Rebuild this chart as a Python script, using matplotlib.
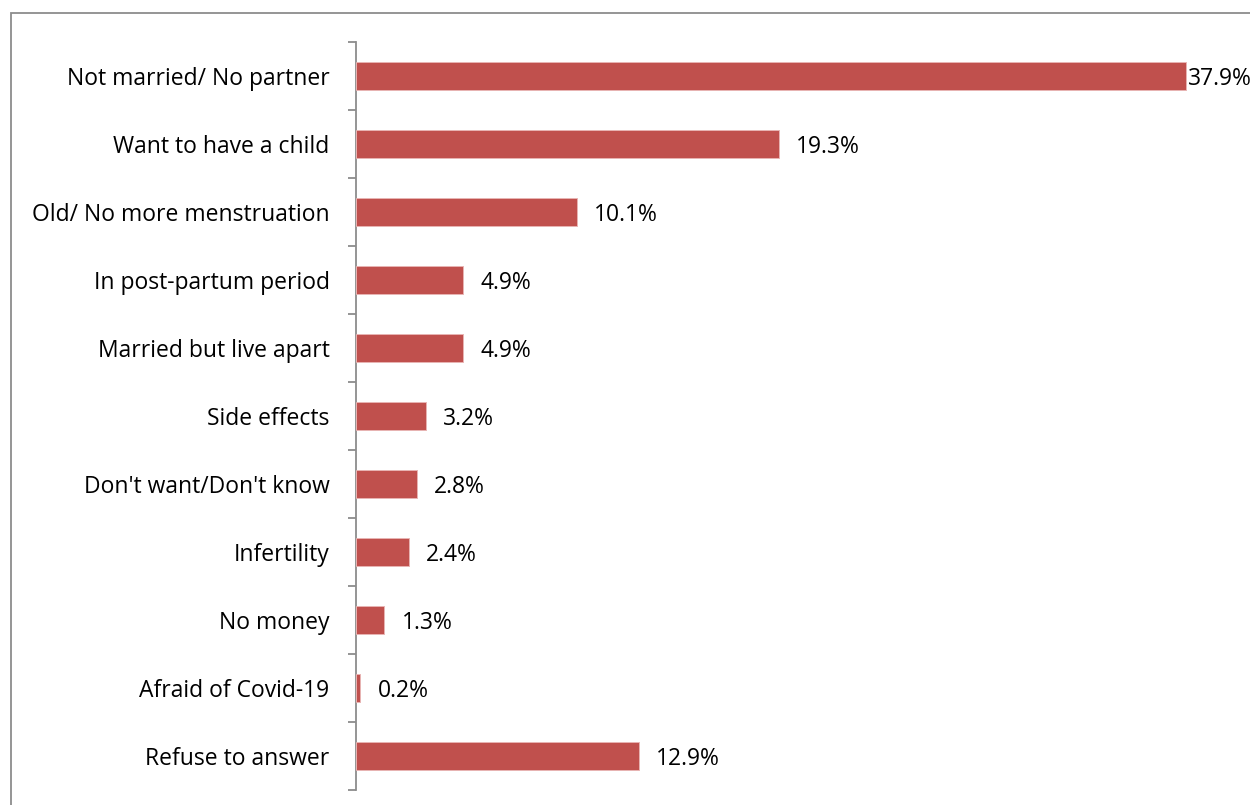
import matplotlib
matplotlib.use("Agg")
import matplotlib.pyplot as plt
from matplotlib.patches import Rectangle
import numpy as np

categories = [
    "Not married/ No partner",
    "Want to have a child",
    "Old/ No more menstruation",
    "In post-partum period",
    "Married but live apart",
    "Side effects",
    "Don't want/Don't know",
    "Infertility",
    "No money",
    "Afraid of Covid-19",
    "Refuse to answer",
]
values = [37.9, 19.3, 10.1, 4.9, 4.9, 3.2, 2.8, 2.4, 1.3, 0.2, 12.9]

plt.rcParams["font.family"] = ["Open Sans", "DejaVu Sans"]

W, H = 1250, 805
fig = plt.figure(figsize=(W / 100, H / 100), dpi=100)

# outer chart frame (runs off the right and bottom edges)
fig.patches.append(Rectangle((11 / W, -0.5), 2.0, (H - 13) / H + 0.5,
                             transform=fig.transFigure, fill=False,
                             edgecolor="#8c8c8c", linewidth=1.3))

px_per_unit = 21.9
xmax = 40
ax = fig.add_axes([356 / W, 15 / H, xmax * px_per_unit / W, 748 / H])

n = len(categories)
y = np.arange(n)
ax.barh(y, values, height=0.4, color="#C0504D", edgecolor="#e8b4b3",
        linewidth=0.7, zorder=3)
ax.set_ylim(n - 0.5, -0.5)
ax.set_xlim(0, xmax)

ax.set_yticks(y)
ax.set_yticklabels(categories, fontsize=16.5, color="black")
ax.tick_params(axis="y", which="major", length=0, pad=19)
ax.set_yticks(np.arange(n + 1) - 0.5, minor=True)
ax.tick_params(axis="y", which="minor", length=6, width=1.3, color="#8c8c8c")
ax.set_xticks([])

for s in ["top", "right", "bottom"]:
    ax.spines[s].set_visible(False)
ax.spines["left"].set_color("#8c8c8c")
ax.spines["left"].set_linewidth(1.3)

vmax = max(values)
for yi, v in zip(y, values):
    off = 2 if v == vmax else 17
    ax.annotate(f"{v:.1f}%", xy=(v, yi), xytext=(off * 0.72, -2.2),
                textcoords="offset points", va="center", ha="left",
                fontsize=16.5, color="black", annotation_clip=False)

fig.savefig("out.png", dpi=100)
